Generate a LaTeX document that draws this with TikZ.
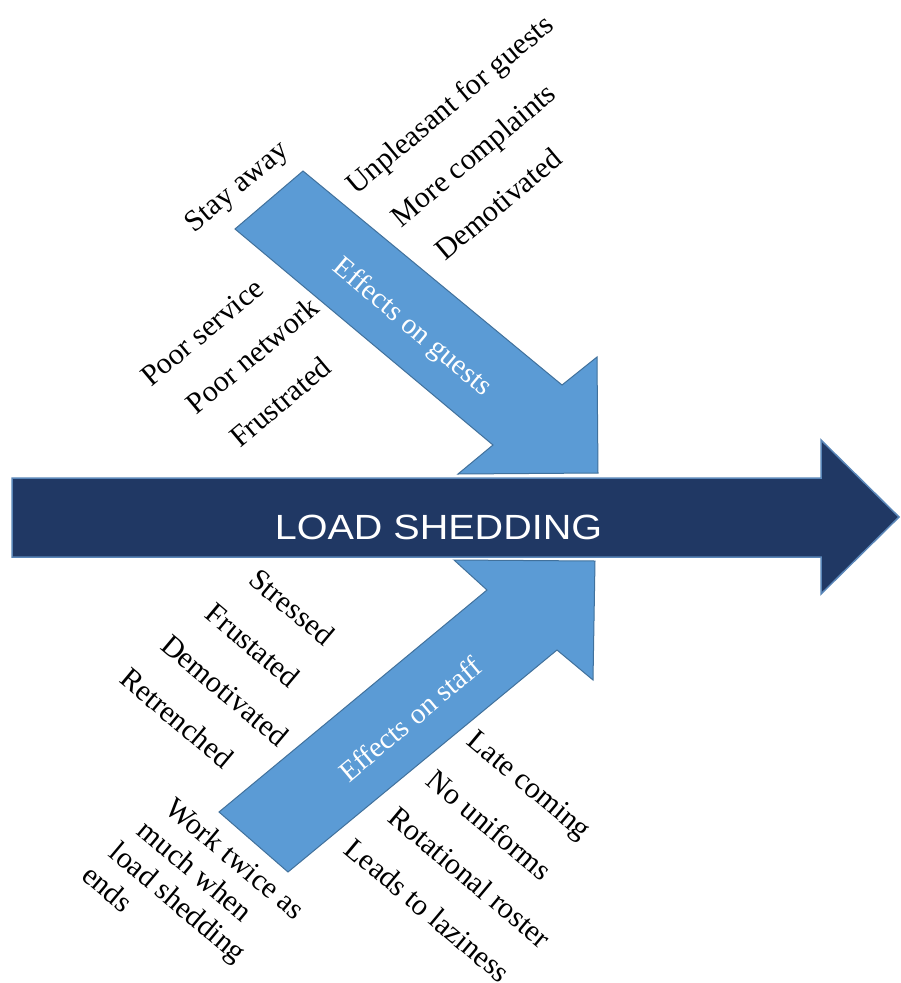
\documentclass[tikz,border=0pt]{standalone}
\usepackage{fontspec}
\usepackage{graphicx}
\setmainfont{Liberation Serif}
\newfontfamily\arialf{Liberation Sans}
\definecolor{navy}{HTML}{203864}
\definecolor{navyedge}{HTML}{5A86B8}
\definecolor{lblue}{HTML}{5B9BD5}
\definecolor{lbedge}{HTML}{41719C}
\begin{document}
\begin{tikzpicture}[x=1pt,y=-1pt,
  lbl/.style={font=\fontsize{30}{37.5}\selectfont, inner sep=0pt, text=black},
  uplbl/.style={lbl, rotate=40},
  downlbl/.style={lbl, rotate=-40},
  arrowlbl/.style={font=\fontsize{29}{34}\selectfont, inner sep=0pt, text=white},
  mainarrow/.style={draw=navyedge, fill=navy, line width=1.5pt, line join=miter},
  sidearrow/.style={draw=lbedge, fill=lblue, line width=1pt, line join=miter}]
\useasboundingbox (0,0) rectangle (900,983);
\fill[white] (0,0) rectangle (900,983);
% main arrow
\draw[mainarrow] (12,478) -- (821,478) -- (821,440) -- (899,517) -- (821,594) -- (821,557) -- (12,557) -- cycle;
\node[font=\arialf\fontsize{35}{40}\selectfont, text=white, inner sep=0pt] (main) at (438.5,527.5) {\scalebox{1.13}[1]{LOAD SHEDDING}};
% upper arrow
\draw[sidearrow] (303,171) -- (562,385) -- (597,357) -- (598,473) -- (458,474) -- (493,445) -- (235,229) -- cycle;
\node[arrowlbl, rotate=-40] (guests) at (412,328) {Effects on guests};
% lower arrow
\draw[sidearrow] (219,812) -- (487,590) -- (454,560) -- (595,561) -- (593,680) -- (557,650) -- (288,872) -- cycle;
\node[arrowlbl, rotate=40] (staff) at (410,719) {Effects on staff};
% upper labels
\node[uplbl] (u1) at (451,106) {Unpleasant for guests};
\node[uplbl] (u2) at (475,157) {More complaints};
\node[uplbl] (u3) at (498,204) {Demotivated};
\node[uplbl] (u4) at (238,188) {Stay away};
\node[uplbl] (u5) at (202,332) {Poor service};
\node[uplbl] (u6) at (252,355) {Poor network};
\node[uplbl] (u7) at (280,402) {Frustrated};
% lower labels
\node[downlbl] (d1) at (292,607) {Stressed};
\node[downlbl] (d2) at (253,645) {Frustated};
\node[downlbl] (d3) at (225,690) {Demotivated};
\node[downlbl] (d4) at (177,718) {Retrenched};
\node[downlbl] (d5) at (528,787) {Late coming};
\node[downlbl] (d6) at (490,825) {No uniforms};
\node[downlbl] (d7) at (470,877) {Rotational roster};
\node[downlbl] (d8) at (428,910) {Leads to laziness};
\node[downlbl, font=\fontsize{30}{35}\selectfont, align=left, anchor=north west] (d9) at (177,795) {Work twice as\\\hspace*{-7pt}much when\\\hspace*{-14pt}load shedding\\\hspace*{-21pt}ends};
\end{tikzpicture}
\end{document}
